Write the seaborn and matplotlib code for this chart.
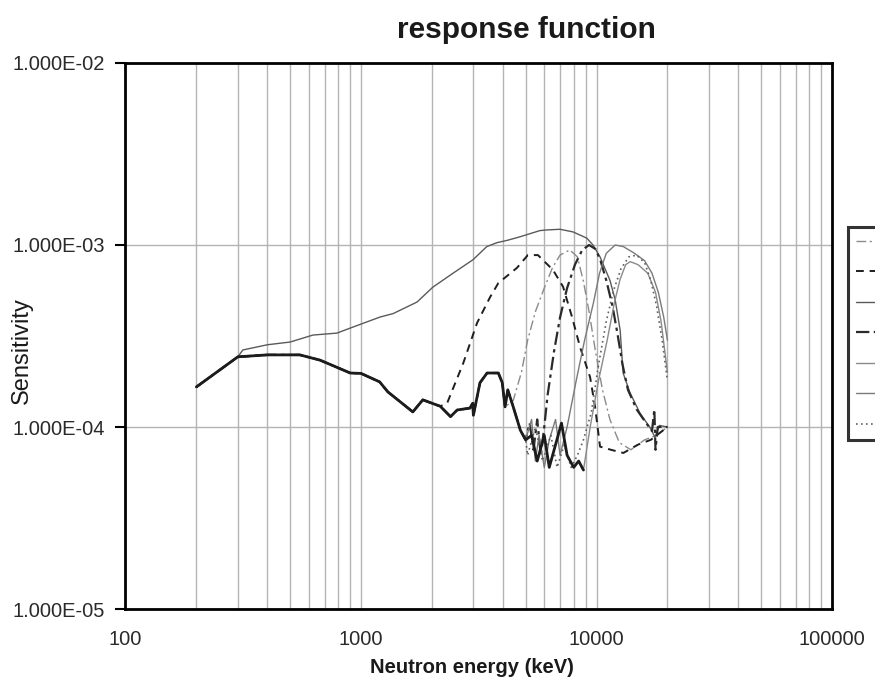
import matplotlib
matplotlib.use("Agg")
import matplotlib.pyplot as plt
from matplotlib.ticker import LogLocator, NullLocator, NullFormatter, FuncFormatter, FixedLocator
import seaborn as sns

# ---------------- data ----------------
title = "response function"
x_label = "Neutron energy (keV)"
y_label = "Sensitivity"
x_ticks = [100, 1000, 10000, 100000]
y_ticks = [1e-5, 1e-4, 1e-3, 1e-2]
# legend texts lie outside the visible picture in the reference
legend_labels = ["", "", "", "", "", "", ""]

# common low-energy tail shared by most curves (keV, sensitivity)
TAIL_E = [200, 300, 400, 550, 670, 900, 1000, 1200, 1300, 1660, 1830, 2170,
          2400, 2560, 2900, 2980, 3000, 3200, 3430, 3830, 3980, 4090, 4200,
          4430, 4750, 5000]
TAIL_S = [1.66e-4, 2.43e-4, 2.49e-4, 2.49e-4, 2.33e-4, 1.98e-4, 1.97e-4,
          1.77e-4, 1.56e-4, 1.21e-4, 1.41e-4, 1.30e-4, 1.14e-4, 1.24e-4,
          1.27e-4, 1.35e-4, 1.16e-4, 1.75e-4, 1.98e-4, 1.98e-4, 1.75e-4,
          1.29e-4, 1.60e-4, 1.29e-4, 9.6e-5, 8.5e-5]

r1_E = TAIL_E[:22] + [4430, 4800, 5100, 5500, 6000, 6500, 7000, 7700, 8300, 8800,
                      9300, 9900, 10600, 11400, 12500, 14000, 16000, 18000, 20000]
r1_S = TAIL_S[:22] + [1.4e-4, 2.0e-4, 3.0e-4, 4.3e-4, 5.8e-4, 7.5e-4, 8.8e-4, 9.4e-4,
                      8.6e-4, 6.3e-4, 4.3e-4, 2.6e-4, 1.6e-4, 1.1e-4, 8.2e-5, 7.5e-5,
                      8.5e-5, 9.0e-5, 1.0e-4]

r2_E = TAIL_E[:12] + [2320, 2720, 3110, 3535, 3830, 4590, 5110, 5640, 6530, 7210,
                      7880, 8510, 9390, 9860, 10350, 11500, 13000, 15000, 17000, 20000]
r2_S = TAIL_S[:12] + [1.35e-4, 2.25e-4, 3.73e-4, 5.18e-4, 6.18e-4, 7.48e-4, 8.8e-4,
                      8.8e-4, 7.3e-4, 5.9e-4, 4.0e-4, 2.75e-4, 1.88e-4, 1.29e-4,
                      7.8e-5, 7.5e-5, 7.2e-5, 8.0e-5, 8.5e-5, 1.0e-4]

r3_E = TAIL_E[:2] + [315, 400, 500, 625, 790, 924, 1205, 1370, 1730, 2020, 2460,
                     2990, 3420, 3780, 4170, 4740, 5750, 6170, 7000, 7950, 9100,
                     9660, 10350, 11400, 12000, 12600, 12970, 13880, 15300, 16900,
                     17700, 18500, 20000]
r3_S = TAIL_S[:2] + [2.65e-4, 2.83e-4, 2.93e-4, 3.2e-4, 3.28e-4, 3.54e-4, 4.02e-4,
                     4.2e-4, 4.86e-4, 5.87e-4, 7.0e-4, 8.3e-4, 9.8e-4, 1.03e-3,
                     1.06e-3, 1.11e-3, 1.2e-3, 1.21e-3, 1.22e-3, 1.18e-3, 1.09e-3,
                     1.0e-3, 8.6e-4, 6.4e-4, 5.0e-4, 3.4e-4, 1.98e-4, 1.54e-4,
                     1.19e-4, 9.9e-5, 8.8e-5, 1.02e-4, 1.0e-4]

r4_E = TAIL_E + [5200, 5400, 5600, 5800, 6000, 6200, 6600, 7000, 7500, 8100, 8700,
                 9300, 9900, 10400, 11000, 11700, 12300, 12900, 13600, 14800, 16000,
                 17200, 17600, 17800, 18200, 20000]
r4_S = TAIL_S + [1.05e-4, 7.5e-5, 1.1e-4, 7.0e-5, 1.0e-4, 1.5e-4, 2.6e-4, 4.0e-4,
                 5.8e-4, 7.8e-4, 9.4e-4, 1.0e-3, 9.5e-4, 8.2e-4, 6.4e-4, 4.6e-4,
                 3.2e-4, 2.2e-4, 1.6e-4, 1.25e-4, 1.08e-4, 9.5e-5, 1.25e-4, 7.5e-5,
                 1.0e-4, 1.0e-4]

r5_E = TAIL_E + [5300, 5600, 6000, 6300, 6700, 7100, 7500, 8000, 8400, 8800, 9400,
                 10200, 11100, 11900, 12600, 13300, 13900, 15000, 16500, 17800,
                 18800, 19500, 20000]
r5_S = TAIL_S + [9.0e-5, 6.5e-5, 9.0e-5, 6.0e-5, 8.0e-5, 1.05e-4, 7.0e-5, 6.0e-5,
                 6.5e-5, 5.8e-5, 1.0e-4, 1.8e-4, 3.0e-4, 4.8e-4, 6.5e-4, 7.8e-4,
                 8.1e-4, 7.8e-4, 7.0e-4, 5.5e-4, 3.8e-4, 2.6e-4, 2.0e-4]

r6_E = TAIL_E + [5300, 5500, 5700, 6000, 6300, 6700, 7000, 7500, 8200, 8900, 9700,
                 10300, 11000, 12000, 13000, 14500, 16000, 17200, 18300, 19300, 20000]
r6_S = TAIL_S + [1.1e-4, 6.5e-5, 9.0e-5, 6.0e-5, 8.5e-5, 1.1e-4, 7.0e-5, 1.0e-4,
                 1.8e-4, 3.0e-4, 4.8e-4, 7.0e-4, 9.0e-4, 1.0e-3, 9.8e-4, 9.0e-4,
                 8.2e-4, 7.0e-4, 5.5e-4, 4.0e-4, 3.0e-4]

r7_E = TAIL_E + [5100, 5500, 5900, 6400, 6800, 7300, 7800, 8300, 8800, 9500, 10200,
                 11000, 11800, 12700, 13700, 14800, 16000, 17000, 18000, 19000, 20000]
r7_S = TAIL_S + [7.0e-5, 1.0e-4, 6.5e-5, 9.0e-5, 6.0e-5, 8.0e-5, 6.0e-5, 7.0e-5,
                 8.5e-5, 1.2e-4, 2.2e-4, 3.8e-4, 5.6e-4, 7.4e-4, 8.6e-4, 8.8e-4,
                 8.0e-4, 6.4e-4, 4.6e-4, 3.0e-4, 1.8e-4]

curves = [(r1_E, r1_S), (r2_E, r2_S), (r3_E, r3_S), (r4_E, r4_S),
          (r5_E, r5_S), (r6_E, r6_S), (r7_E, r7_S)]

# the overlapping shared tail plus the noisy floor, which reads as one heavy line
heavy_E = r5_E[:36]
heavy_S = r5_S[:36]

# ---------------- styles ----------------
styles = [
    dict(color="#8a8a8a", lw=1.0, ls=(0, (7, 2.5, 1.5, 2.5))),
    dict(color="#1e1e1e", lw=1.4, ls=(0, (4, 3))),
    dict(color="#5a5a5a", lw=1.0, ls="-"),
    dict(color="#2a2a2a", lw=1.6, ls=(0, (6, 2, 1.5, 2))),
    dict(color="#8a8a8a", lw=1.0, ls="-"),
    dict(color="#7a7a7a", lw=1.0, ls="-"),
    dict(color="#606060", lw=1.2, ls=(0, (1, 2))),
]

sns.set_theme(style="white")
plt.rcParams["font.family"] = ["Liberation Sans", "DejaVu Sans"]

fig = plt.figure(figsize=(8.75, 6.93), dpi=100)
ax = fig.add_axes([0.1434, 0.1212, 0.8075, 0.7879])

for (E, S), st in zip(curves, styles):
    sns.lineplot(x=E, y=S, ax=ax, color=st["color"], linewidth=st["lw"],
                 linestyle=st["ls"], sort=False, estimator=None)
curve_lines = list(ax.lines)

sns.lineplot(x=heavy_E, y=heavy_S, ax=ax, color="#1c1c1c", linewidth=2.0,
             sort=False, estimator=None)

ax.set_xscale("log")
ax.set_yscale("log")
ax.set_xlim(100, 100000)
ax.set_ylim(1e-5, 1e-2)

ax.xaxis.set_major_locator(FixedLocator(x_ticks))
ax.xaxis.set_minor_locator(LogLocator(base=10, subs=[2, 3, 4, 5, 6, 7, 8, 9], numticks=20))
ax.xaxis.set_minor_formatter(NullFormatter())
ax.xaxis.set_major_formatter(FuncFormatter(lambda v, p: f"{int(round(v))}"))
ax.yaxis.set_major_locator(FixedLocator(y_ticks))
ax.yaxis.set_minor_locator(NullLocator())
ax.yaxis.set_major_formatter(FuncFormatter(lambda v, p: f"{v:.3E}"))

ax.xaxis.grid(True, which="both", color="#b4b4b4", linewidth=1.0)
ax.yaxis.grid(True, which="major", color="#b4b4b4", linewidth=1.0)
ax.set_axisbelow(True)

ax.tick_params(axis="x", which="both", bottom=False, top=False, labelsize=14.5,
               pad=9, labelcolor="#2a2a2a")
ax.tick_params(axis="y", which="major", left=True, length=7, width=1.5,
               color="black", direction="out", labelsize=14.5, pad=8,
               labelcolor="#2a2a2a")

for sp in ax.spines.values():
    sp.set_color("black")
    sp.set_linewidth(2.0)
    sp.set_visible(True)

ax.set_xlabel(x_label, fontsize=14.5, fontweight="bold", color="#1a1a1a")
ax.xaxis.set_label_coords(0.49, -0.09)
ax.set_ylabel(y_label, fontsize=17, color="#1a1a1a")
ax.yaxis.set_label_coords(-0.131, 0.474)

fig.text(0.602, 0.957, title, ha="center", va="center", fontsize=21.5,
         fontweight="bold", color="#1a1a1a")

if ax.get_legend() is not None:
    ax.get_legend().remove()
leg = fig.legend(curve_lines, legend_labels, loc="upper left",
                 bbox_to_anchor=(848 / 875, 1 - 227 / 693),
                 bbox_transform=fig.transFigure, frameon=True, fancybox=False,
                 fontsize=12, labelspacing=0.93, handlelength=4.0,
                 borderpad=0.45, borderaxespad=0.0, handletextpad=0.6)
leg.get_frame().set_edgecolor("black")
leg.get_frame().set_linewidth(2.2)
leg.get_frame().set_facecolor("white")

fig.savefig("out.png", dpi=100)
